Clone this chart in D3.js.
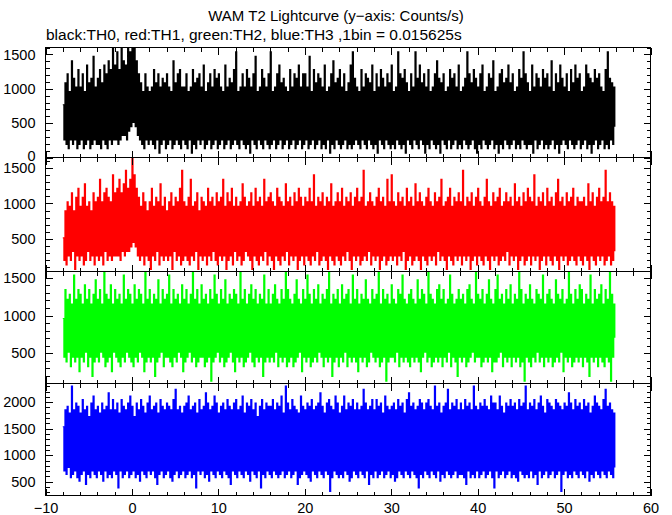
<!DOCTYPE html>
<html><head><meta charset="utf-8">
<script src="https://cdn.jsdelivr.net/npm/d3@7"></script>
<style>body{margin:0;background:#fff}</style>
</head><body><svg id="c" width="672" height="515"></svg>
<script>
const titleText = "WAM T2 Lightcurve (y\u2212axis: Counts/s)";
const subtitleText = "black:TH0, red:TH1, green:TH2, blue:TH3 ,1bin = 0.015625s";
const seriesNames = ["TH0", "TH1", "TH2", "TH3"];
const seriesColors = ["#000000", "#ff0000", "#00ff00", "#0000ff"];
const tStart = -8, tStep = 0.125;
const xTicks = [-10, 0, 10, 20, 30, 40, 50, 60];
const yDomains = [[0, 1600], [33, 1654], [98, 1584], [241, 2351]];
const yTickLabels = [[0, 500, 1000, 1500], [500, 1000, 1500], [500, 1000, 1500], [500, 1000, 1500, 2000]];

const th0 = [
768,256,1088,192,1216,128,960,256,1408,192,1152,256,1024,128,1280,192,
1024,256,1216,128,960,192,1344,256,1088,128,1152,192,1472,256,1024,192,
1152,192,1280,128,1088,256,1344,192,1216,128,1408,256,1280,192,1600,256,
1344,256,1536,192,1280,256,1664,320,1408,320,1344,256,1664,384,1536,448,
1664,512,1600,448,1408,320,1216,256,1088,192,960,128,1216,256,1024,192,
960,256,1024,192,1280,128,1088,256,1216,64,1024,192,1152,256,1088,128,
1216,192,1024,256,960,128,1408,192,1088,256,1216,192,1280,128,1024,256,
1024,192,1216,128,960,256,1024,64,1280,192,1088,128,1152,256,1216,192,
1024,256,1344,128,960,192,1088,256,1216,128,1024,192,1280,256,1152,128,
1216,192,1024,256,960,128,1344,192,1024,256,1152,128,1088,192,1280,256,
1536,192,960,128,1024,256,1216,192,1024,128,1280,192,1152,64,1024,256,
1216,192,1472,128,960,256,1024,192,1280,128,1152,256,1024,192,1216,128,
1536,192,960,256,1024,128,1216,192,1344,256,1088,128,1152,192,1024,256,
960,128,1280,192,1024,256,1216,128,1152,192,1344,256,1024,128,1216,192,
1216,256,1024,128,1472,192,960,256,1280,128,1088,192,1216,256,1152,128,
1024,192,1344,128,960,256,1024,64,1216,192,1408,128,1088,256,1152,192,
1280,128,1024,192,1216,256,960,128,1088,192,1344,128,1536,192,1152,256,
1024,192,960,128,1280,256,1024,192,1216,128,1152,256,1088,192,1344,128,
960,192,1216,64,1024,256,1280,192,1152,128,1024,256,1216,192,1088,128,
1344,192,960,128,1024,256,1536,192,1216,128,1152,192,1280,64,1088,256,
960,192,1216,128,1024,256,1536,192,1152,128,1344,256,1088,192,1216,64,
1024,192,1280,128,960,256,1024,192,1216,128,1408,192,1152,64,1088,256,
1216,192,960,128,1024,256,1280,128,1152,192,1216,256,1024,128,1344,192,
960,128,1024,256,1152,192,1536,128,1216,192,1088,256,1280,128,1152,64,
1024,192,1216,128,1344,256,960,192,1024,128,1216,192,1152,256,1408,128,
960,192,1024,64,1216,192,1280,128,1088,256,1152,192,1344,128,1088,192,
1216,256,960,128,1024,192,1280,128,1152,256,1536,192,1216,128,1088,192,
960,192,1344,64,1024,256,1216,128,1152,192,1024,256,1280,128,1152,192,
1216,128,1024,192,1408,256,960,128,1216,192,1088,64,1344,192,1152,256,
1024,192,1216,128,960,256,1280,192,1088,128,1344,192,1152,256,1216,128,
960,192,1024,256,1344,128,1216,192,1152,64,1088,192,1280,256,1152,128,
1216,192,1024,256,960,128,1280,192,1536,128,1152,256,1088,192,1024,448
];

const th1 = [
512,192,896,128,1024,256,960,192,1152,320,896,64,1088,256,1216,192,
960,256,1088,128,1280,192,960,320,1024,192,896,256,1152,128,1024,256,
1088,192,1344,256,1024,128,1152,320,1216,192,1088,256,1024,192,1408,256,
1152,256,1216,256,1344,192,1152,320,1280,256,1472,320,1216,320,1344,384,
1664,448,1408,384,1216,256,1088,192,960,256,1152,128,1024,256,896,192,
1024,64,1216,256,960,192,1088,320,1024,128,1280,256,960,192,1088,256,
896,192,1024,256,1152,64,960,320,1088,192,1024,256,1216,128,1472,192,
1024,256,960,192,1088,128,1344,256,960,192,1024,320,1152,64,896,256,
1088,192,1024,256,960,128,1216,256,1024,192,1088,320,960,192,1152,128,
1024,256,1088,192,1344,256,960,64,1152,192,1024,256,1216,128,960,320,
1088,192,960,256,1024,128,1280,192,1088,320,960,256,1024,192,1152,64,
960,256,1216,192,1024,128,1088,256,960,192,1344,320,1024,128,1088,256,
1152,192,1024,64,960,256,1216,192,1088,128,1024,256,960,192,1280,320,
1024,128,1088,256,960,192,1152,256,1024,64,1216,192,1088,256,960,128,
1088,256,1024,192,1216,128,1024,256,1408,192,960,320,1088,128,1024,192,
1152,256,960,192,1088,64,1024,256,1280,192,960,128,1024,256,1152,192,
1024,128,1216,256,960,192,1088,320,1024,192,1152,64,960,256,1088,192,
1216,256,1024,128,1088,192,1472,256,960,192,1024,320,1152,128,1024,256,
960,192,1088,256,1216,64,1024,192,1088,256,960,128,1344,192,1024,256,
1408,192,1024,256,960,128,1152,256,1024,192,1088,320,960,64,1216,192,
1024,256,1088,128,960,192,1280,256,1024,192,1152,64,1024,256,960,192,
1088,128,1216,256,1024,192,960,256,1152,128,1024,320,1088,192,1344,256,
960,192,1024,64,1088,256,1216,192,960,128,1088,256,1024,192,1152,256,
1024,128,1472,256,960,192,1088,256,1024,64,1152,192,960,256,1088,128,
1216,256,1024,192,960,128,1088,256,1344,192,1024,64,960,256,1152,192,
1024,256,1088,128,1216,192,960,256,1024,192,1152,320,1024,128,1088,256,
960,192,1280,256,1024,64,1088,192,960,256,1152,128,1024,192,1216,256,
1088,128,1024,256,1408,192,960,256,1088,64,1024,192,1152,256,960,128,
1216,256,1024,192,1088,128,960,256,1152,192,1344,64,1024,256,1088,192,
960,256,1152,128,1024,192,1088,256,1216,192,960,128,1088,256,1024,192,
1024,128,1088,256,960,192,1280,64,1024,256,1152,192,960,128,1088,256,
1216,192,1024,256,1088,128,1472,192,1024,256,1152,128,1024,192,960,320
];

const th2 = [
960,448,1344,384,1216,512,1280,320,1152,448,1536,384,1216,448,1344,256,
1280,448,1152,384,1408,512,1216,320,1344,448,1152,192,1280,384,1472,448,
1216,384,1344,512,1152,448,1600,320,1280,384,1216,448,1408,256,1152,512,
1344,448,1216,384,1280,320,1152,448,1536,384,1216,512,1344,448,1280,384,
1152,320,1408,448,1216,384,1344,512,1280,448,1152,256,1600,384,1216,448,
1344,384,1152,448,1280,192,1216,384,1472,448,1152,512,1344,320,1216,448,
1280,448,1536,384,1152,320,1344,448,1216,384,1280,512,1152,448,1408,256,
1216,384,1344,448,1152,512,1280,384,1600,448,1216,320,1344,384,1152,448,
1408,448,1216,320,1280,384,1152,448,1344,128,1216,384,1536,448,1280,512,
1152,384,1344,448,1216,320,1472,384,1152,448,1280,512,1216,384,1344,256,
1280,448,1152,384,1600,448,1216,320,1344,384,1152,448,1280,512,1408,384,
1216,320,1344,448,1152,384,1280,448,1216,192,1536,384,1152,448,1344,384,
1152,448,1280,384,1408,512,1216,320,1152,448,1344,384,1216,448,1600,320,
1344,384,1216,448,1152,320,1280,384,1472,448,1216,512,1152,256,1344,448,
1216,384,1536,448,1280,320,1152,384,1344,448,1216,384,1408,512,1152,448,
1280,320,1216,448,1344,384,1600,448,1152,192,1280,384,1216,448,1344,320,
1152,448,1408,384,1216,512,1280,320,1344,448,1152,384,1536,448,1216,384,
1344,256,1152,448,1280,384,1216,448,1472,320,1216,384,1152,512,1344,448,
1216,384,1280,448,1600,320,1152,384,1344,448,1216,128,1280,384,1152,448,
1408,448,1216,384,1152,512,1344,320,1280,448,1536,384,1216,448,1152,384,
1280,320,1344,448,1216,384,1152,448,1472,384,1216,256,1344,448,1280,512,
1152,384,1600,448,1280,320,1216,384,1152,448,1344,384,1408,448,1216,320,
1344,448,1152,384,1216,512,1536,320,1280,448,1152,384,1216,192,1344,448,
1216,384,1280,448,1152,320,1344,384,1408,448,1216,512,1152,384,1600,448,
1280,448,1216,320,1344,384,1152,448,1280,384,1472,448,1216,256,1152,384,
1344,384,1536,448,1216,512,1280,320,1152,448,1344,384,1216,448,1408,320,
1152,448,1280,384,1216,448,1600,320,1344,384,1152,128,1280,448,1216,384,
1408,320,1216,448,1152,384,1344,512,1280,384,1216,448,1536,320,1152,448,
1280,384,1344,448,1216,320,1152,384,1472,448,1280,384,1216,512,1344,256,
1152,448,1216,384,1600,448,1280,320,1152,384,1344,448,1216,384,1408,448,
1344,320,1152,448,1280,384,1216,192,1536,448,1152,384,1344,448,1216,320,
1280,448,1408,384,1152,320,1344,448,1216,384,1600,128,1280,448,1152,704
];

const th3 = [
1536,704,1856,640,1920,768,1792,576,2304,640,1856,704,1984,576,1920,512,
1792,640,2048,704,1856,448,1920,640,1728,576,1984,704,2112,640,1856,576,
1920,704,1792,640,1984,512,1856,704,1920,576,2176,640,1856,576,2048,704,
1856,640,1984,384,1792,704,2048,576,1920,640,1856,704,1984,576,2112,640,
1920,704,1728,576,1984,640,1856,512,2048,704,1920,640,1792,576,1984,704,
2112,640,1856,704,1920,576,1984,448,1792,640,2048,704,1920,576,1856,640,
1984,704,1920,576,1856,512,2048,640,2240,704,1856,576,1920,640,1792,704,
1920,576,1984,640,2112,704,1856,576,1920,640,1984,384,1792,704,2048,640,
1856,704,1920,576,2176,640,1984,512,1856,704,1920,640,2112,576,1984,704,
1792,640,1920,576,1984,704,1856,640,2048,576,1920,448,1856,704,1984,640,
2048,576,1856,704,1920,640,2112,576,1792,704,1984,640,1920,512,2048,704,
1856,640,1984,576,1728,704,1920,384,2048,640,1856,576,1984,704,1920,640,
1920,576,2048,704,1856,640,1984,576,1920,640,2112,704,1792,576,2304,640,
1984,704,1856,576,2048,640,1920,704,1856,448,1792,576,2112,640,1920,704,
1856,640,1984,576,1920,512,2048,704,1856,640,1920,576,1984,704,2176,640,
1920,576,1792,704,1984,640,2048,320,1920,576,1856,704,2112,640,1984,576,
1792,640,1920,576,2112,704,1856,640,1984,512,1920,576,2048,704,1856,640,
1984,576,1856,704,1920,640,2240,576,1984,704,1856,448,1920,640,2048,576,
1856,704,2048,576,1920,640,1984,704,1792,576,2112,640,1920,704,1856,576,
1920,640,1984,512,1856,576,2048,704,1920,640,1984,576,1792,704,2048,640,
2176,576,1920,704,1984,640,1856,576,1920,384,2048,640,1984,576,1856,704,
1984,640,2048,576,1920,704,1856,640,2304,576,1920,704,1984,512,1792,640,
1920,576,1984,704,2240,640,1856,576,1984,640,1920,704,2048,576,1856,640,
1984,640,1856,576,2048,448,1920,704,1984,576,1856,640,2304,576,1920,704,
1856,576,1984,640,1920,704,2048,576,1920,640,1856,704,2112,576,1984,384,
1984,704,1856,576,2112,640,1920,704,1792,576,1984,640,1920,704,2048,576,
1920,640,1984,576,1856,512,2048,704,1920,640,1984,576,2304,640,1856,576,
1984,704,1920,576,2048,640,1856,448,1984,704,2112,576,1920,640,1792,704,
2048,576,1984,640,1920,704,1856,576,2048,640,1984,704,1920,320,1856,640,
1984,704,1920,576,2176,640,1984,576,1856,704,2048,640,1920,576,1984,704,
1856,640,2048,576,1920,704,1984,512,1792,640,1920,576,2112,704,1984,640,
1920,576,1856,704,2048,640,2240,576,1920,704,1984,640,1856,576,1792,768
];

const seriesValues = [th0, th1, th2, th3];

const svg = d3.select("#c");
const FONT = "'Liberation Sans', Arial, Helvetica, sans-serif";
const plotLeft = 45.5, plotRight = 650.5;
const edges = [47.5, 157.5, 271.5, 383.5, 495.5];
const x = d3.scaleLinear().domain([-10, 60]).range([plotLeft, plotRight]);
const xMinor = d3.range(-10, 60.001, 2);

svg.append("text").attr("x", 336).attr("y", 21).attr("text-anchor", "middle")
  .attr("font-family", FONT).attr("font-size", 15).text(titleText);
svg.append("text").attr("x", 46).attr("y", 40).attr("text-anchor", "start")
  .attr("font-family", FONT).attr("font-size", 15.5).text(subtitleText);

seriesValues.forEach((vals, k) => {
  const top = edges[k], bot = edges[k + 1];
  const [d0, d1] = yDomains[k];
  const y = d3.scaleLinear().domain([d0, d1]).range([bot, top]);
  const g = svg.append("g");
  const cid = "clip" + k;
  svg.append("clipPath").attr("id", cid).append("rect")
    .attr("x", plotLeft).attr("y", top).attr("width", plotRight - plotLeft).attr("height", bot - top);
  const line = d3.line().curve(d3.curveStepAfter)
    .x((d, i) => x(tStart + i * tStep)).y(d => y(d));
  g.append("path").attr("d", line(vals)).attr("fill", "none")
    .attr("stroke", seriesColors[k]).attr("stroke-width", 1.15)
    .attr("clip-path", `url(#${cid})`);

  g.append("rect").attr("x", plotLeft).attr("y", top).attr("width", plotRight - plotLeft)
    .attr("height", bot - top).attr("fill", "none").attr("stroke", "#000").attr("stroke-width", 1)
    .attr("shape-rendering", "crispEdges");

  const yMinor = d3.range(Math.ceil(d0 / 100) * 100, d1 + 0.001, 100);
  const yMajor = yTickLabels[k];
  const axes = [
    [d3.axisLeft(y).tickValues(yMajor).tickSize(-7).tickPadding(10).tickFormat(d3.format("d")), plotLeft, 0],
    [d3.axisLeft(y).tickValues(yMinor).tickSize(-4).tickFormat(""), plotLeft, 0],
    [d3.axisRight(y).tickValues(yMajor).tickSize(-7).tickFormat(""), plotRight, 0],
    [d3.axisRight(y).tickValues(yMinor).tickSize(-4).tickFormat(""), plotRight, 0],
    [d3.axisTop(x).tickValues(xTicks).tickSize(-7).tickFormat(""), 0, top],
    [d3.axisTop(x).tickValues(xMinor).tickSize(-4).tickFormat(""), 0, top],
    [d3.axisBottom(x).tickValues(xTicks).tickSize(-7).tickPadding(7)
       .tickFormat(k === 3 ? d3.format("d") : ""), 0, bot],
    [d3.axisBottom(x).tickValues(xMinor).tickSize(-4).tickFormat(""), 0, bot]
  ];
  axes.forEach(([ax, tx, ty], j) => {
    const a = g.append("g").attr("transform", `translate(${tx},${ty})`).call(ax);
    a.select(".domain").remove();
    a.selectAll("line").attr("stroke", "#000").attr("shape-rendering", "crispEdges");
    a.attr("font-family", FONT).attr("font-size", 14.5);
    a.selectAll("text").attr("fill", "#000");
    if (j === 0) a.selectAll("text").filter(d => d === d0).attr("dy", "0.2em");
  });
});
</script></body></html>
